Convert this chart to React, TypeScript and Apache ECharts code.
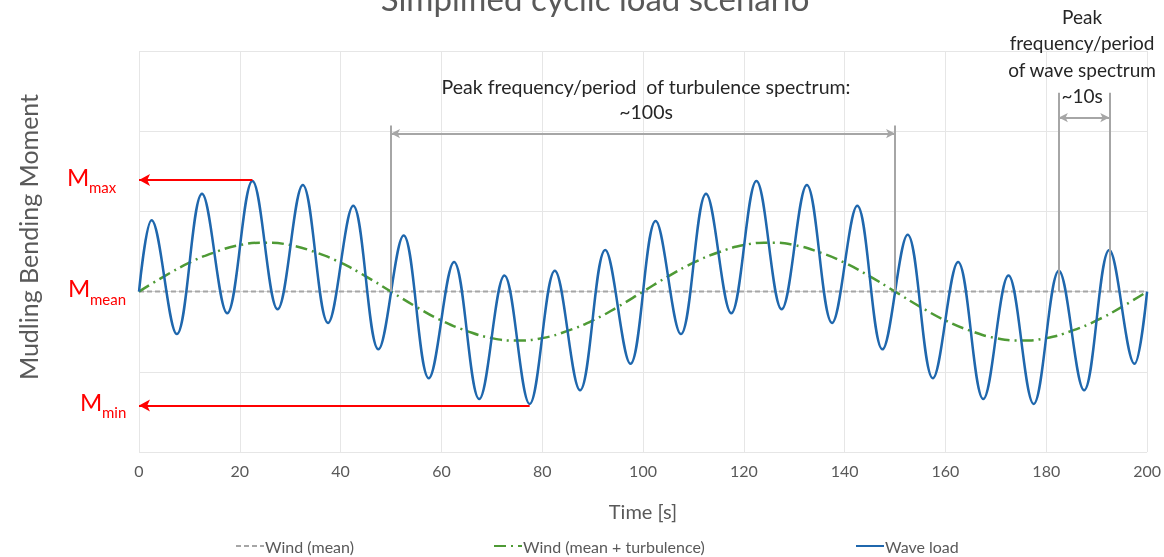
import React, { useEffect, useRef } from "react";
import * as echarts from "echarts";

const FONT = "Lato, 'Noto Sans', sans-serif";

// ---- data ----
const windMeanTime = [0, 200];
const windMeanValues = [0, 0];

const windTime = [
  0, 5, 10, 15, 20, 25, 30, 35, 40, 45, 50, 55, 60, 65, 70, 75, 80, 85, 90, 95,
  100, 105, 110, 115, 120, 125, 130, 135, 140, 145, 150, 155, 160, 165, 170, 175, 180, 185, 190, 195, 200,
];
const windTurbulence = [
  0, 0.19, 0.36, 0.49, 0.58, 0.61, 0.58, 0.49, 0.36, 0.19, 0, -0.19, -0.36, -0.49, -0.58, -0.61, -0.58, -0.49, -0.36, -0.19,
  0, 0.19, 0.36, 0.49, 0.58, 0.61, 0.58, 0.49, 0.36, 0.19, 0, -0.19, -0.36, -0.49, -0.58, -0.61, -0.58, -0.49, -0.36, -0.19, 0,
];

const waveTime = [
  0, 2.5, 7.5, 12.5, 17.5, 22.5, 27.5, 32.5, 37.5, 42.5, 47.5, 52.5, 57.5, 62.5, 67.5, 72.5, 77.5, 82.5, 87.5, 92.5, 97.5,
  102.5, 107.5, 112.5, 117.5, 122.5, 127.5, 132.5, 137.5, 142.5, 147.5, 152.5, 157.5, 162.5, 167.5, 172.5, 177.5, 182.5, 187.5, 192.5, 197.5, 200,
];
const waveLoad = [
  0, 0.89, -0.53, 1.22, -0.27, 1.38, -0.22, 1.33, -0.39, 1.07, -0.72, 0.7, -1.08, 0.37, -1.34, 0.2, -1.4, 0.26, -1.23, 0.52, -0.9,
  0.88, -0.53, 1.22, -0.27, 1.38, -0.22, 1.33, -0.39, 1.07, -0.72, 0.71, -1.08, 0.37, -1.34, 0.2, -1.4, 0.26, -1.23, 0.52, -0.9, 0,
];

const mMaxPoint = [22.5, 1.39];
const mMinPoint = [77.5, -1.42];
const turbulencePeriod = [50, 150];
const turbulenceBracket = [2.07, 1.97]; // top of verticals, arrow level
const wavePeriod = [182.5, 192.5];
const waveBracket = [2.48, 2.17];

const legendNames = ["Wind (mean)", "Wind (mean + turbulence)", "Wave load"];

const pairs = (xs: number[], ys: number[]) => xs.map((x, i) => [x, ys[i]]);

export default function App() {
  const ref = useRef<HTMLDivElement>(null);
  useEffect(() => {
    const chart = echarts.init(ref.current!, null, { renderer: "svg" });
    const gray = "#a6a6a6";
    const grayArrow = { symbol: "arrow", symbolSize: [7, 9] };
    const redArrow = { symbol: "arrow", symbolSize: [9, 11] };
    chart.setOption({
      animation: false,
      textStyle: { fontFamily: FONT },
      grid: { left: 139, right: 15, top: 51, bottom: 105 },
      xAxis: {
        type: "value",
        min: 0,
        max: 200,
        interval: 20,
        name: "Time [s]",
        nameLocation: "middle",
        nameGap: 49,
        nameTextStyle: { fontSize: 20, color: "#595959", fontFamily: FONT },
        axisLine: { lineStyle: { color: "#d9d9d9" } },
        axisTick: { show: false },
        axisLabel: { fontSize: 16, color: "#595959", margin: 10, fontFamily: FONT },
        splitLine: { show: true, lineStyle: { color: "#e6e6e6" } },
      },
      yAxis: {
        type: "value",
        min: -2,
        max: 3,
        interval: 1,
        axisLine: { show: false },
        axisTick: { show: false },
        axisLabel: { show: false },
        splitLine: { show: true, lineStyle: { color: "#e6e6e6" } },
      },
      legend: [
        { left: 230, name: legendNames[0] },
        { left: 488, name: legendNames[1] },
        { left: 850, name: legendNames[2] },
      ].map((l) => ({
        data: [l.name],
        left: l.left,
        top: 533,
        itemWidth: 28,
        itemHeight: 10,
        itemGap: 0,
        itemStyle: { opacity: 0 },
        textStyle: { fontSize: 16, color: "#595959", fontFamily: FONT, padding: [0, 0, 0, -4] },
        selectedMode: false,
      })),
      series: [
        {
          name: legendNames[0],
          type: "line",
          data: pairs(windMeanTime, windMeanValues),
          symbol: "none",
          z: 1,
          lineStyle: { color: "#a6a6a6", width: 2, type: [5, 3] },
          itemStyle: { color: "#a6a6a6" },
          markLine: {
            silent: true,
            symbol: ["none", "none"],
            label: { show: false },
            emphasis: { disabled: true },
            lineStyle: { color: gray, width: 2, type: "solid" },
            data: [
              [{ coord: [turbulencePeriod[0], 0] }, { coord: [turbulencePeriod[0], turbulenceBracket[0]] }],
              [{ coord: [turbulencePeriod[1], 0] }, { coord: [turbulencePeriod[1], turbulenceBracket[0]] }],
              [
                { coord: [turbulencePeriod[0], turbulenceBracket[1]], ...grayArrow },
                { coord: [turbulencePeriod[1], turbulenceBracket[1]], ...grayArrow },
              ],
              [{ coord: [wavePeriod[0], 0] }, { coord: [wavePeriod[0], waveBracket[0]] }],
              [{ coord: [wavePeriod[1], 0] }, { coord: [wavePeriod[1], waveBracket[0]] }],
              [
                { coord: [wavePeriod[0], waveBracket[1]], ...grayArrow },
                { coord: [wavePeriod[1], waveBracket[1]], ...grayArrow },
              ],
            ],
          },
        },
        {
          name: legendNames[1],
          type: "line",
          data: pairs(windTime, windTurbulence),
          symbol: "none",
          smooth: 0.5,
          z: 2,
          lineStyle: { color: "#4e9a35", width: 2.5, type: [12, 5, 2, 5] },
          itemStyle: { color: "#4e9a35" },
        },
        {
          name: legendNames[2],
          type: "line",
          data: pairs(waveTime, waveLoad),
          symbol: "none",
          smooth: 0.37,
          z: 3,
          lineStyle: { color: "#1f67ad", width: 2.5 },
          itemStyle: { color: "#1f67ad" },
          markLine: {
            silent: true,
            symbol: ["none", "none"],
            label: { show: false },
            emphasis: { disabled: true },
            lineStyle: { color: "#ff0000", width: 2, type: "solid" },
            data: [
              [{ coord: mMaxPoint }, { coord: [0, mMaxPoint[1]], ...redArrow }],
              [{ coord: mMinPoint }, { coord: [0, mMinPoint[1]], ...redArrow }],
            ],
          },
        },
      ],
    });

    const px = (t: number, v: number) => chart.convertToPixel({ gridIndex: 0 }, [t, v]) as number[];
    const pMax = px(0, mMaxPoint[1]);
    const pMean = px(0, 0);
    const pMin = px(0, mMinPoint[1]);
    const red = "#ff0000";
    const mLabel = (mx: number, sx: number, y: number, sub: string) => [
      {
        type: "text",
        x: mx,
        y: y - 4,
        style: { text: "M", fontSize: 24, fill: red, fontFamily: FONT, textVerticalAlign: "middle" },
      },
      {
        type: "text",
        x: sx,
        y: y + 7,
        style: { text: sub, fontSize: 15, fill: red, fontFamily: FONT, textVerticalAlign: "middle" },
      },
    ];
    const turbMid = px((turbulencePeriod[0] + turbulencePeriod[1]) / 2, 2.4);
    const waveMid = px((wavePeriod[0] + wavePeriod[1]) / 2, 0);
    chart.setOption({
      graphic: [
        {
          type: "text",
          x: 595,
          y: 14,
          style: {
            text: "Simplified cyclic load scenario",
            fontSize: 33,
            fill: "#595959",
            fontFamily: FONT,
            textAlign: "center",
            textVerticalAlign: "bottom",
          },
        },
        {
          type: "text",
          x: 28,
          y: 237,
          rotation: Math.PI / 2,
          style: {
            text: "Mudling Bending Moment",
            fontSize: 25,
            fill: "#595959",
            fontFamily: FONT,
            textAlign: "center",
            textVerticalAlign: "middle",
          },
        },
        ...mLabel(67, 89, pMax[1], "max"),
        ...mLabel(68, 90, pMean[1], "mean"),
        ...mLabel(80, 102, pMin[1], "min"),
        {
          type: "text",
          x: turbMid[0] + 3,
          y: turbMid[1],
          style: {
            text: "Peak frequency/period  of turbulence spectrum:\n~100s",
            fontSize: 19.5,
            lineHeight: 25,
            fill: "#262626",
            fontFamily: FONT,
            textAlign: "center",
            textVerticalAlign: "middle",
          },
        },
        {
          type: "text",
          x: waveMid[0] - 2,
          y: 56,
          style: {
            text: "Peak\nfrequency/period\nof wave spectrum\n~10s",
            fontSize: 19,
            lineHeight: 26.5,
            fill: "#262626",
            fontFamily: FONT,
            textAlign: "center",
            textVerticalAlign: "middle",
          },
        },
      ],
    });
    return () => chart.dispose();
  }, []);
  return <div ref={ref} style={{ position: "fixed", left: 0, top: 0, width: 1164, height: 557 }} />;
}
